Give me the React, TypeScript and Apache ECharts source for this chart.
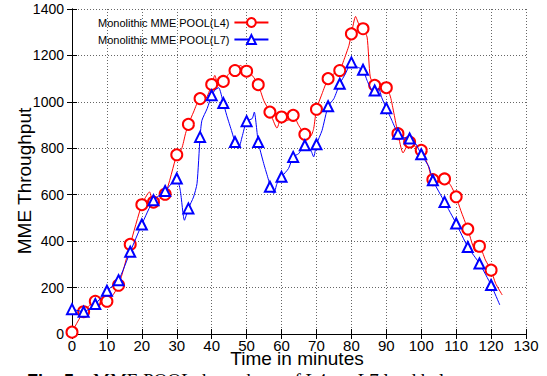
import React, { useEffect, useRef } from "react";
import * as echarts from "echarts";

const seriesNames = ["Monolithic MME POOL(L4)", "Monolithic MME POOL(L7)"];

// minutes at which markers are drawn
const markerTimes = [0, 3.33, 6.67, 10, 13.33, 16.67, 20, 23.33, 26.67, 30, 33.33, 36.67, 40, 43.33, 46.67, 50, 53.33, 56.67, 60, 63.33, 66.67, 70, 73.33, 76.67, 80, 83.33, 86.67, 90, 93.33, 96.67, 100, 103.33, 106.67, 110, 113.33, 116.67, 120];

const l4Markers = [8, 96, 141, 141, 210, 386, 557, 568, 602, 772, 903, 1014, 1075, 1088, 1135, 1132, 1074, 956, 935, 942, 860, 968, 1100, 1135, 1293, 1315, 1071, 1061, 863, 827, 791, 665, 668, 591, 452, 378, 275];
const l7Markers = [107, 96, 129, 186, 232, 354, 472, 576, 616, 670, 541, 849, 1028, 995, 827, 917, 827, 634, 677, 763, 813, 817, 981, 1078, 1170, 1138, 1049, 973, 863, 842, 774, 662, 569, 476, 375, 304, 211];

// samples between markers (no marker drawn)
const l4PathTimes = [22.2, 31.4, 32.5, 34.8, 38.2, 40.9, 41.5, 44.9, 48.2, 51.6, 54.9, 58.7, 61.8, 64.9, 68.3, 69.2, 71.6, 75.0, 77.8, 79.3, 81.2, 82.1, 84.5, 85.4, 88.7, 91.2, 92.2, 94.8, 98.4, 102.0, 108.4, 111.3, 115.6, 118.4, 121.3, 123.2];
const l4PathValues = [612, 798, 863, 956, 1014, 1114, 1092, 1121, 1157, 1114, 1006, 887, 920, 899, 852, 885, 1035, 1121, 1178, 1243, 1368, 1336, 1279, 1107, 1057, 1021, 949, 780, 806, 725, 641, 533, 354, 318, 218, 168];

const l7PathTimes = [31.0, 32.2, 34.8, 35.8, 37.2, 38.7, 41.0, 42.0, 44.3, 45.8, 47.7, 48.7, 51.6, 52.2, 54.9, 56.3, 57.8, 58.7, 62.0, 64.9, 68.3, 69.2, 71.6, 75.0, 78.3, 81.7, 84.5, 86.0, 87.8, 88.7, 91.6, 95.0, 98.4, 102.2, 122.5];
const l7PathValues = [619, 490, 590, 648, 920, 971, 1052, 1061, 942, 870, 799, 849, 928, 956, 734, 662, 605, 648, 713, 777, 794, 763, 877, 1014, 1121, 1150, 1092, 1049, 1057, 1018, 920, 846, 820, 720, 125];

const xMin = 0, xMax = 130, xStep = 10;
const yMin = 0, yMax = 1400, yStep = 200;

const axisTitleX = "Time in minutes";
const axisTitleY = "MME Throughput";
const captionBold = "Fig. 5:";
const captionText = "MME POOL throughput of L4 vs. L7 load balancer";

function buildData(mt: number[], mv: number[], pt: number[], pv: number[]) {
  const pts: { t: number; v: number; m: boolean }[] = [];
  mt.forEach((t, i) => pts.push({ t, v: mv[i], m: true }));
  pt.forEach((t, i) => pts.push({ t, v: pv[i], m: false }));
  pts.sort((a, b) => a.t - b.t);
  return pts.map((p) => (p.m ? { value: [p.t, p.v] } : { value: [p.t, p.v], symbol: "none" }));
}

export default function App() {
  const ref = useRef<HTMLDivElement>(null);
  useEffect(() => {
    document.body.style.margin = "0";
    if (!ref.current) return;
    const chart = echarts.init(ref.current, null, { renderer: "svg" });
    const font = "Liberation Sans, Arial, sans-serif";
    const axisCommon = {
      axisLine: { show: true, lineStyle: { color: "#000", width: 1 } },
      axisTick: { show: true, inside: true, length: 5, lineStyle: { color: "#000" } },
    };
    chart.setOption({
      animation: false,
      backgroundColor: "#fff",
      grid: { left: 72, right: 21, top: 9, bottom: 42, outerBoundsMode: "none" },
      legend: {
        orient: "vertical",
        left: 93,
        top: 12,
        align: "right",
        itemWidth: 34,
        itemHeight: 11,
        itemGap: 6,
        textStyle: { fontSize: 11, color: "#000", fontFamily: font },
        data: seriesNames,
      },
      xAxis: [
        {
          type: "value",
          min: xMin,
          max: xMax,
          interval: xStep,
          ...axisCommon,
          axisLabel: { color: "#000", fontSize: 15, fontFamily: font, margin: 4, formatter: (v: number) => String(v) },
          splitLine: { show: true, lineStyle: { color: "#666", type: [1, 2], width: 1 } },
        },
        {
          type: "value",
          position: "top",
          min: xMin,
          max: xMax,
          interval: xStep,
          ...axisCommon,
          axisLabel: { show: false },
          splitLine: { show: false },
        },
      ],
      yAxis: [
        {
          type: "value",
          min: yMin,
          max: yMax,
          interval: yStep,
          ...axisCommon,
          axisLabel: { color: "#000", fontSize: 14, fontFamily: font, margin: 8, formatter: (v: number) => String(v) },
          splitLine: { show: true, lineStyle: { color: "#666", type: [1, 2], width: 1 } },
        },
        {
          type: "value",
          position: "right",
          min: yMin,
          max: yMax,
          interval: yStep,
          ...axisCommon,
          axisLabel: { show: false },
          splitLine: { show: false },
        },
      ],
      graphic: [
        {
          type: "text",
          x: 24,
          y: 181,
          rotation: Math.PI / 2,
          style: {
            text: axisTitleY,
            fontSize: 19,
            fontFamily: font,
            fill: "#000",
            align: "center",
            verticalAlign: "middle",
          },
        },
        {
          type: "text",
          x: 297,
          y: 358,
          style: {
            text: axisTitleX,
            fontSize: 19,
            fontFamily: font,
            fill: "#000",
            align: "center",
            verticalAlign: "middle",
          },
        },
        {
          type: "text",
          x: 27,
          y: 372,
          style: {
            text: captionBold,
            fontSize: 18,
            fontWeight: "bold",
            fontFamily: font,
            fill: "#000",
            verticalAlign: "top",
          },
        },
        {
          type: "text",
          x: 93,
          y: 371,
          style: {
            text: captionText,
            fontSize: 19,
            fontFamily: "Liberation Serif, Times New Roman, serif",
            fill: "#000",
            verticalAlign: "top",
          },
        },
      ],
      series: [
        {
          name: seriesNames[0],
          type: "line",
          data: buildData(markerTimes, l4Markers, l4PathTimes, l4PathValues),
          symbol: "emptyCircle",
          symbolSize: 11,
          showAllSymbol: true,
          smooth: 0.2,
          color: "#ff0000",
          lineStyle: { color: "#ff0000", width: 1 },
          itemStyle: { color: "#ff0000", borderColor: "#ff0000", borderWidth: 1 },
          z: 3,
        },
        {
          name: seriesNames[1],
          type: "line",
          data: buildData(markerTimes, l7Markers, l7PathTimes, l7PathValues),
          symbol: "emptyTriangle",
          symbolSize: 10,
          showAllSymbol: true,
          smooth: 0.2,
          color: "#0000ff",
          lineStyle: { color: "#0000ff", width: 1 },
          itemStyle: { color: "#0000ff", borderColor: "#0000ff", borderWidth: 1 },
          z: 4,
        },
      ],
    });
    return () => chart.dispose();
  }, []);
  return <div ref={ref} style={{ width: 547, height: 376 }} />;
}
